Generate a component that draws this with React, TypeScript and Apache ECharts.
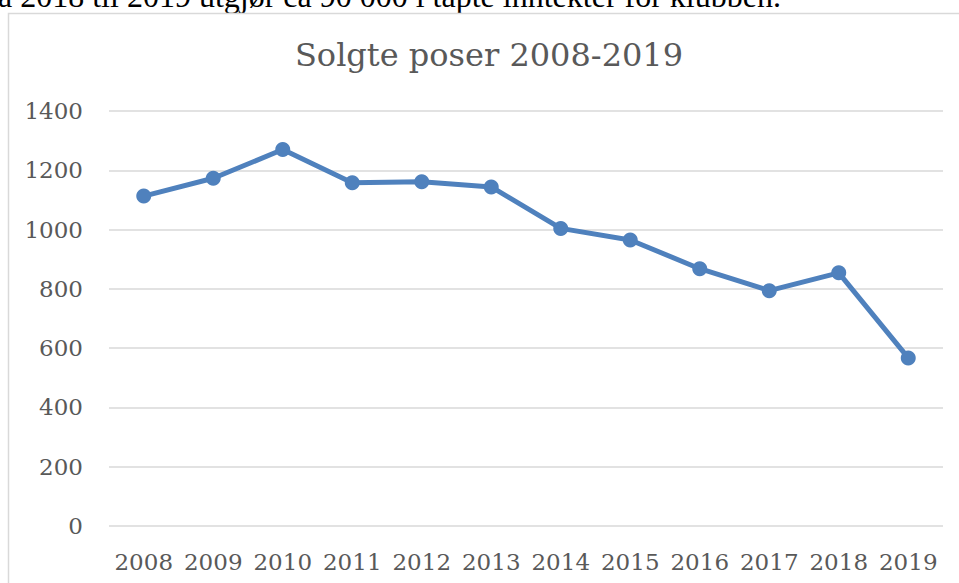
import React, { useEffect, useRef } from "react";
import * as echarts from "echarts";

const years = ["2008", "2009", "2010", "2011", "2012", "2013", "2014", "2015", "2016", "2017", "2018", "2019"];
const soldBags = [1113, 1173, 1270, 1158, 1161, 1144, 1004, 965, 868, 794, 854, 567];
const chartTitle = "Solgte poser 2008-2019";
const docText = "a 2018 til 2019 utgjør ca 90 000 i tapte inntekter for klubben.";

export default function App() {
  const ref = useRef<HTMLDivElement>(null);
  useEffect(() => {
    document.body.style.margin = "0";
    const chart = echarts.init(ref.current!, null, { renderer: "svg" });
    const labelFont = { fontFamily: "DejaVu Serif", fontSize: 23, color: "#595959" };
    chart.setOption({
      animation: false,
      backgroundColor: "#ffffff",
      graphic: [
        {
          type: "text",
          x: -2,
          y: -4,
          style: {
            text: docText,
            font: "32px 'Liberation Serif'",
            fill: "#000000",
            align: "left",
            verticalAlign: "middle",
          },
        },
        {
          type: "rect",
          shape: { x: 8.5, y: 13.5, width: 980, height: 600 },
          style: { fill: "none", stroke: "#d9d9d9", lineWidth: 1.5 },
        },
        {
          type: "text",
          x: 489,
          y: 55,
          style: {
            text: chartTitle,
            font: "32px 'DejaVu Serif'",
            fill: "#595959",
            align: "center",
            verticalAlign: "middle",
          },
        },
      ],
      grid: { left: 109, right: 16, top: 111, bottom: 57, containLabel: false },
      xAxis: {
        type: "category",
        data: years,
        boundaryGap: true,
        axisLine: { show: false },
        axisTick: { show: false },
        axisLabel: { ...labelFont, margin: 24, interval: 0 },
        splitLine: { show: false },
      },
      yAxis: {
        type: "value",
        min: 0,
        max: 1400,
        interval: 200,
        axisLine: { show: false },
        axisTick: { show: false },
        axisLabel: { ...labelFont, margin: 26, formatter: (v: number) => String(v) },
        splitLine: { show: true, lineStyle: { color: "#d9d9d9", width: 1.5 } },
      },
      series: [
        {
          type: "line",
          data: soldBags,
          symbol: "circle",
          symbolSize: 15,
          lineStyle: { color: "#4f81bd", width: 5 },
          itemStyle: { color: "#4f81bd" },
        },
      ],
    });
    return () => chart.dispose();
  }, []);
  return <div ref={ref} style={{ position: "absolute", left: 0, top: 0, width: 959, height: 583 }} />;
}
